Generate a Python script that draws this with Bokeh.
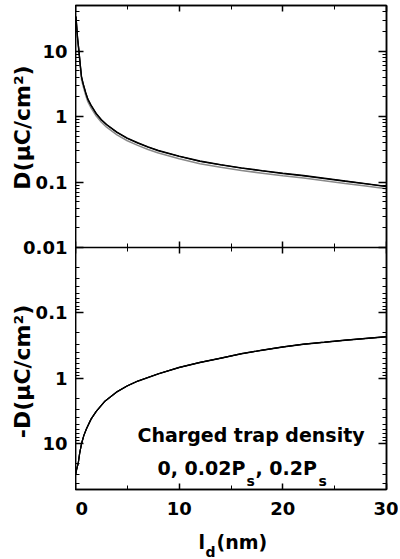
import math
from bokeh.plotting import figure
from bokeh.layouts import row, column
from bokeh.models import (Range1d, LogScale, LogAxis, LinearAxis, FixedTicker,
                          SingleIntervalTicker, Label)
from bokeh.embed import file_html
from bokeh.resources import INLINE

# ---------------- data ----------------
ld_top = [0.05, 0.1, 0.2, 0.32, 0.45, 0.58, 0.74, 1.0, 1.2, 1.5, 2.0, 2.5, 3.0,
          4.0, 5.0, 6.0, 7.0, 8.0, 10, 12, 14, 16, 18, 20, 22, 24, 26, 28, 30]
D_0 = [34, 26, 16, 10.7, 6.5, 4.1, 3.2, 2.3, 1.85, 1.5, 1.12, 0.9, 0.76,
       0.58, 0.47, 0.40, 0.345, 0.305, 0.25, 0.21, 0.185, 0.165, 0.15, 0.137,
       0.126, 0.115, 0.104, 0.095, 0.086]
D_002 = [34, 25.8, 15.8, 10.6, 6.4, 4.05, 3.17, 2.27, 1.83, 1.48, 1.1, 0.89, 0.75,
         0.573, 0.464, 0.395, 0.341, 0.301, 0.247, 0.207, 0.183, 0.163, 0.148, 0.135,
         0.124, 0.113, 0.103, 0.094, 0.085]
D_02 = [33, 24, 14.8, 9.8, 5.9, 3.7, 2.9, 2.09, 1.68, 1.36, 1.02, 0.82, 0.69,
        0.528, 0.428, 0.364, 0.314, 0.278, 0.228, 0.191, 0.168, 0.15, 0.137, 0.125,
        0.115, 0.105, 0.095, 0.087, 0.079]

ld_bot = [0.02, 0.1, 0.26, 0.4, 0.58, 0.8, 1.06, 1.5, 2.0, 2.8, 4, 5, 6, 8,
          10, 12, 14, 16, 18, 20, 22, 24, 26, 28, 30]
negD_0 = [29, 25, 20, 14, 10, 7.5, 5.9, 4.2, 3.2, 2.26, 1.6, 1.3, 1.1, 0.85,
          0.68, 0.57, 0.49, 0.42, 0.37, 0.33, 0.30, 0.28, 0.26, 0.245, 0.23]
negD_002 = [29, 25, 20, 14, 10, 7.5, 5.9, 4.2, 3.2, 2.26, 1.6, 1.3, 1.1, 0.85,
            0.68, 0.57, 0.49, 0.42, 0.37, 0.33, 0.30, 0.28, 0.26, 0.245, 0.23]
negD_02 = [29, 25, 20, 14, 10, 7.5, 5.9, 4.2, 3.2, 2.27, 1.61, 1.31, 1.11, 0.855,
           0.685, 0.575, 0.494, 0.424, 0.373, 0.333, 0.303, 0.283, 0.263, 0.247, 0.232]

top_ticks = [10, 1, 0.1, 0.01]
top_tick_labels = ["10", "1", "0.1", "0.01"]
bot_ticks = [0.1, 1, 10]
bot_tick_labels = ["0.1", "1", "10"]
x_tick_interval = 10

X_MAX = 30
TOP_MAX = 50
MID = 0.01
BOT_MAX = 50

FONT = "DejaVu Sans"
TICK_SIZE = "18px"
LABEL_SIZE = "19px"
YTITLE_SIZE = "22px"
SUB_SIZE = "14px"


def mirror(v):
    # position of a bottom-panel value on the shared (top-panel) log scale
    return float(f"{MID * MID / v:.6g}")


prim = Range1d(start=mirror(BOT_MAX), end=TOP_MAX)
bot = Range1d(start=BOT_MAX, end=mirror(TOP_MAX))
xr = Range1d(0, X_MAX)

H_MAIN = 525
B_TOP = 5
B_BOT = 36
W_STRIP = 75
W_MAIN = 323
H_XL = 34

# ---------------- y ticks ----------------
decades = [0.01, 0.1, 1, 10]
top_minor = [m * d for d in decades for m in range(2, 10) if m * d < TOP_MAX]
bot_minor = [m * d for d in decades for m in range(2, 10) if m * d < BOT_MAX]
y_major = top_ticks + [mirror(v) for v in bot_ticks]
y_minor = top_minor + [mirror(v) for v in bot_minor]
overrides = {t: l for t, l in zip(top_ticks, top_tick_labels)}
overrides.update({mirror(v): l for v, l in zip(bot_ticks, bot_tick_labels)})


def style_axis(ax, show_labels, major=7, minor=4):
    ax.axis_line_color = "black"
    ax.axis_line_width = 1.5
    ax.major_tick_line_color = "black"
    ax.major_tick_line_width = 1.5
    ax.minor_tick_line_color = "black"
    ax.minor_tick_line_width = 1
    ax.major_tick_in = major
    ax.major_tick_out = 0
    ax.minor_tick_in = minor
    ax.minor_tick_out = 0
    if show_labels:
        ax.major_label_text_font = FONT
        ax.major_label_text_font_style = "bold"
        ax.major_label_text_font_size = TICK_SIZE
        ax.major_label_text_color = "black"
    else:
        ax.major_label_text_font_size = "0px"
        ax.major_label_text_color = None
        ax.major_label_standoff = 0


def bare(fig):
    fig.xgrid.grid_line_color = None
    fig.ygrid.grid_line_color = None
    fig.outline_line_color = None
    fig.background_fill_color = "white"
    fig.border_fill_color = "white"


def label(fig, text, x, y, size=LABEL_SIZE, angle=0.0, align="left", baseline="alphabetic"):
    fig.add_layout(Label(x=x, y=y, x_units="screen", y_units="screen", text=text,
                         text_font=FONT, text_font_style="bold", text_font_size=size,
                         text_color="black", angle=angle, text_align=align,
                         text_baseline=baseline))


# ---------------- main plot ----------------
p = figure(width=W_MAIN, height=H_MAIN, x_range=xr, y_range=prim,
           y_axis_type="log", output_backend="svg", toolbar_location=None,
           min_border_left=0, min_border_right=12, min_border_top=B_TOP,
           min_border_bottom=B_BOT)
p.extra_y_ranges = {"bot": bot}
p.extra_y_scales = {"bot": LogScale()}
bare(p)
p.outline_line_color = "black"
p.outline_line_width = 1.5

left = p.left[0]
left.ticker = FixedTicker(ticks=y_major, minor_ticks=y_minor)
style_axis(left, False, major=8, minor=4)

right = LogAxis(ticker=FixedTicker(ticks=y_major, minor_ticks=y_minor))
style_axis(right, False, major=8, minor=4)
p.add_layout(right, "right")

below = p.below[0]
below.ticker = SingleIntervalTicker(interval=x_tick_interval, num_minor_ticks=2)
style_axis(below, True, major=6, minor=4)
below.major_label_standoff = 12

above = LinearAxis(ticker=SingleIntervalTicker(interval=x_tick_interval, num_minor_ticks=2))
style_axis(above, False, major=6, minor=4)
p.add_layout(above, "above")

mid_axis = LinearAxis(fixed_location=MID,
                      ticker=SingleIntervalTicker(interval=x_tick_interval, num_minor_ticks=2))
style_axis(mid_axis, False, major=6, minor=4)
mid_axis.major_tick_out = 6
mid_axis.minor_tick_out = 4
p.add_layout(mid_axis, "below")

p.line(ld_top, D_02, color="#8a8a8a", line_width=1.5)
p.line(ld_top, D_002, color="black", line_width=1.3)
p.line(ld_top, D_0, color="black", line_width=1.3)
p.line(ld_bot, negD_02, color="black", line_width=1.2, y_range_name="bot")
p.line(ld_bot, negD_002, color="black", line_width=1.2, y_range_name="bot")
p.line(ld_bot, negD_0, color="black", line_width=1.2, y_range_name="bot")

label(p, "Charged trap density", 62, 55)
label(p, "0, 0.02P", 82, 22)
label(p, "s", 171, 9, size=SUB_SIZE)
label(p, ", 0.2P", 180, 22)
label(p, "s", 243, 9, size=SUB_SIZE)

# ---------------- left strip: y tick labels and y titles ----------------
s = figure(width=W_STRIP, height=H_MAIN, x_range=Range1d(0, 1), y_range=prim,
           y_axis_type="log", x_axis_location=None, y_axis_location=None,
           output_backend="svg", toolbar_location=None,
           min_border_left=0, min_border_right=0, min_border_top=B_TOP,
           min_border_bottom=B_BOT)
bare(s)
ylab_axis = LogAxis(fixed_location=1.0, ticker=FixedTicker(ticks=y_major, minor_ticks=[]))
ylab_axis.major_label_overrides = overrides
style_axis(ylab_axis, True, major=0, minor=0)
ylab_axis.axis_line_color = None
ylab_axis.major_tick_line_color = None
ylab_axis.minor_tick_line_color = None
ylab_axis.major_label_standoff = 8
s.add_layout(ylab_axis, "left")
label(s, "D(\u03bcC/cm\u00b2)", 22, 362, size=YTITLE_SIZE, angle=math.pi / 2,
      align="center", baseline="middle")
label(s, "-D(\u03bcC/cm\u00b2)", 22, 118, size=YTITLE_SIZE, angle=math.pi / 2,
      align="center", baseline="middle")

# ---------------- bottom strip: x title ----------------
xl = figure(width=W_MAIN, height=H_XL, x_range=Range1d(0, 1), y_range=Range1d(0, 1),
            x_axis_location=None, y_axis_location=None,
            output_backend="svg", toolbar_location=None,
            min_border_left=0, min_border_right=0, min_border_top=0, min_border_bottom=0)
bare(xl)
label(xl, "l", 123, 18)
label(xl, "d", 130, 8, size=SUB_SIZE)
label(xl, "(nm)", 141, 18)

layout = row(s, column(p, xl))
open("out.html", "w").write(file_html(layout, INLINE))
